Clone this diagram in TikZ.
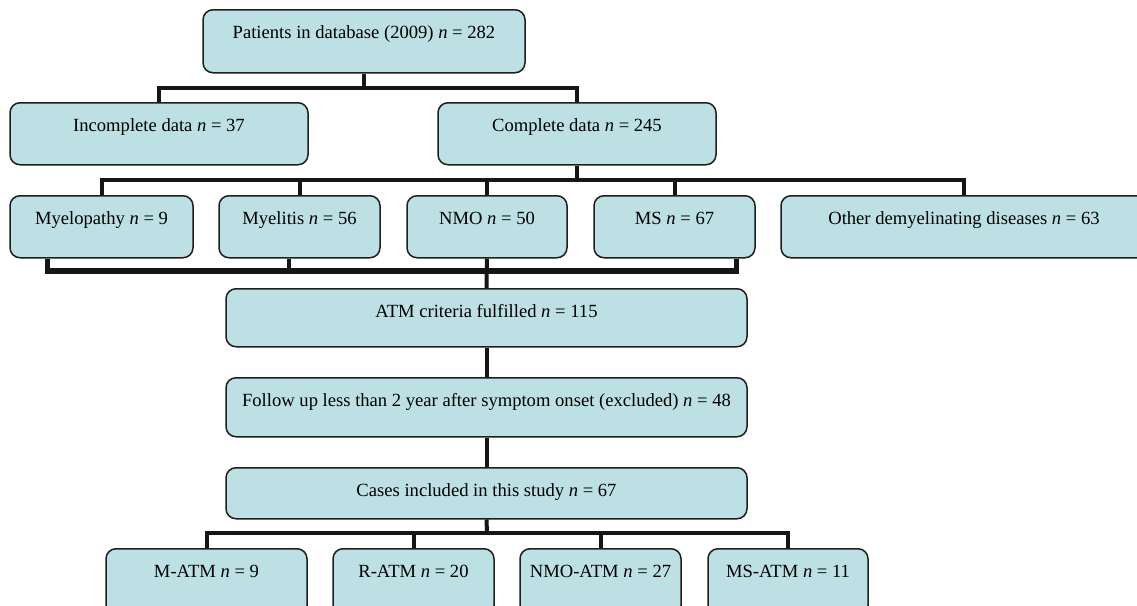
\documentclass[tikz,border=0pt]{standalone}
\usepackage{fontspec}
\setmainfont{Liberation Serif}
\usetikzlibrary{calc}
\definecolor{boxfill}{RGB}{188,224,227}
\definecolor{boxline}{RGB}{30,30,30}
\definecolor{connline}{RGB}{22,22,22}
\begin{document}
\begin{tikzpicture}[x=0.5pt,y=-0.5pt,
  box/.style={draw=boxline, fill=boxfill, line width=0.75pt, rounded corners=5pt,
    inner xsep=0pt, inner ysep=0pt, text height=14.5pt, anchor=north,
    font=\fontsize{9.3}{11}\selectfont},
  conn/.style={draw=connline, line width=2pt}]
\useasboundingbox (0,0) rectangle (1137,606);
\clip (0,0) rectangle (1137,606);
% level 0
\node[box, minimum width=161pt, text depth=17pt] (top) at (364,9) {Patients in database (2009) \textit{n} = 282};
% level 1
\node[box, minimum width=149pt, text depth=16.5pt] (inc) at (159,102) {Incomplete data \textit{n} = 37};
\node[box, minimum width=139pt, text depth=16.5pt] (comp) at (577,102) {Complete data \textit{n} = 245};
% level 2
\node[box, minimum width=91.5pt, text depth=16.5pt] (myelo) at (101.5,195) {Myelopathy \textit{n} = 9};
\node[box, minimum width=80.5pt, text depth=16.5pt] (myelit) at (299.5,195) {Myelitis \textit{n} = 56};
\node[box, minimum width=80pt, text depth=16.5pt] (nmo) at (487,195) {NMO \textit{n} = 50};
\node[box, minimum width=80.5pt, text depth=16.5pt] (ms) at (674.5,195) {MS \textit{n} = 67};
\node[box, minimum width=183pt, text depth=16.5pt] (other) at (964,195) {Other demyelinating diseases \textit{n} = 63};
% chain
\node[box, minimum width=260.5pt, text depth=14.5pt] (atm) at (486.5,288) {ATM criteria fulfilled \textit{n} = 115};
\node[box, minimum width=260.5pt, text depth=15pt] (follow) at (486.5,377) {Follow up less than 2 year after symptom onset (excluded) \textit{n} = 48};
\node[box, minimum width=260.5pt, text depth=11pt] (cases) at (486.5,467) {Cases included in this study \textit{n} = 67};
% bottom
\node[box, minimum width=100.5pt, text depth=19pt] (matm) at (206.5,548) {M-ATM \textit{n} = 9};
\node[box, minimum width=80.5pt, text depth=19pt] (ratm) at (413.5,548) {R-ATM \textit{n} = 20};
\node[box, minimum width=80.5pt, text depth=19pt] (nmoatm) at (600.5,548) {NMO-ATM \textit{n} = 27};
\node[box, minimum width=80pt, text depth=19pt] (msatm) at (788,548) {MS-ATM \textit{n} = 11};
% bus coordinates
\coordinate (b1) at (364,88);
\coordinate (b2) at (577,180);
\coordinate (b3) at (487,271);
\coordinate (b4) at (487,533);
% level 0 -> 1
\draw[conn] (top.south) -- (b1);
\draw[conn] (inc.north) |- (b1);
\draw[conn] (comp.north) |- (b1);
% level 1 -> 2
\draw[conn] (comp.south) -- (b2);
\draw[conn] (myelo.north) |- (b2);
\draw[conn] (myelit.north) |- (b2);
\draw[conn] (nmo.north) |- (b2);
\draw[conn] (ms.north) |- (b2);
\draw[conn] (other.north) |- (b2);
% level 2 -> ATM
\draw[conn] (nmo.south) -- (atm.north);
\draw[conn, line width=2.6pt] ([xshift=19pt]myelo.south west) |- (b3);
\draw[conn] ([xshift=35.5pt]myelit.south west) -- ++(0,14);
\draw[conn, line width=2.6pt] ([xshift=71.5pt]ms.south west) |- (b3);
% chain
\draw[conn] (atm.south) -- (follow.north);
\draw[conn] (follow.south) -- (cases.north);
% cases -> bottom
\draw[conn] (cases.south) -- (b4);
\draw[conn] (matm.north) |- (b4);
\draw[conn] (ratm.north) |- (b4);
\draw[conn] (nmoatm.north) |- (b4);
\draw[conn] (msatm.north) |- (b4);
\end{tikzpicture}
\end{document}
